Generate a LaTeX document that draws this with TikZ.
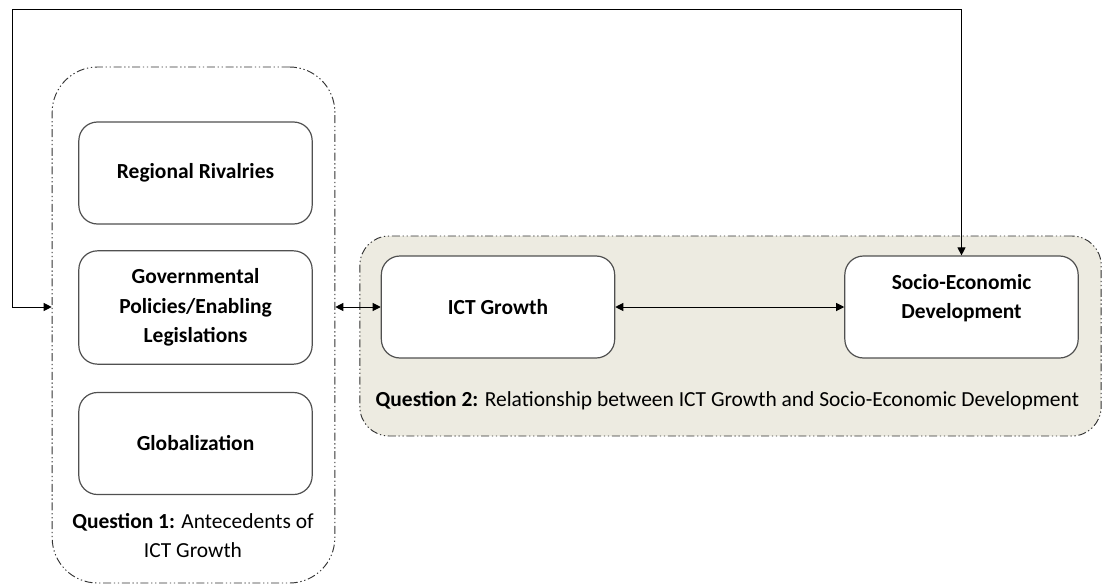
\documentclass[tikz,border=0pt]{standalone}
\usepackage{fontspec}
\setmainfont{Carlito}
\usetikzlibrary{arrows.meta}
\definecolor{panelfill}{RGB}{237,235,225}
\definecolor{boxline}{RGB}{80,80,80}
\newcommand{\diagfont}{\fontsize{16.1}{22.1}\selectfont}

\begin{document}
\begin{tikzpicture}[x=0.75pt,y=-0.75pt,>={Triangle[length=6pt,width=6pt]},
  every node/.style={font=\diagfont},
  factor/.style={draw=boxline,line width=0.9pt,fill=white,rounded corners=14pt,
    minimum width=175pt,minimum height=76.5pt,align=center,inner sep=0pt,font=\diagfont\bfseries},
  group/.style={draw=black!80,line width=0.7pt,
    dash pattern=on 6pt off 2pt on 1pt off 2pt on 1pt off 2pt,inner sep=0pt}]
	\useasboundingbox (0,0) rectangle (1105,585);
	% groups of the two questions
	\node[group,rounded corners=34pt,minimum width=212pt,minimum height=387pt] (Q1) at (193.5,325) {};
	\node[group,fill=panelfill,rounded corners=22pt,minimum width=556pt,minimum height=150pt] (Q2) at (730.5,336) {};
	% factors
	\node[factor] (RR) at (195.5,173) {Regional Rivalries};
	\node[factor,minimum height=85pt] (GP) at (195.5,307.5) {Governmental\\Policies/Enabling\\Legislations};
	\node[factor] (GL) at (195.5,443.5) {Globalization};
	\node[factor] (ICT) at (498,307) {ICT Growth};
	\node[factor] (SED) at (961.5,307) {Socio-Economic\\Development\\[-6.6pt]\mbox{}};
	% captions
	\node[align=center] (C1) at (193,535.5) {\textbf{Question 1:} Antecedents of\\ICT Growth};
	\node[anchor=west] (C2) at (371,401) {\textbf{Question 2:} Relationship between ICT Growth and Socio-Economic Development};
	% connectors
	\coordinate (corner) at (12,10);
	\draw[<->,line width=0.75pt] (Q1.east |- ICT.west) -- (ICT.west);
	\draw[<->,line width=0.75pt] (ICT) -- (SED);
	\draw[<->,line width=0.75pt] (SED.north) |- (corner) |- (Q1.west |- ICT.west);
\end{tikzpicture}
\end{document}
